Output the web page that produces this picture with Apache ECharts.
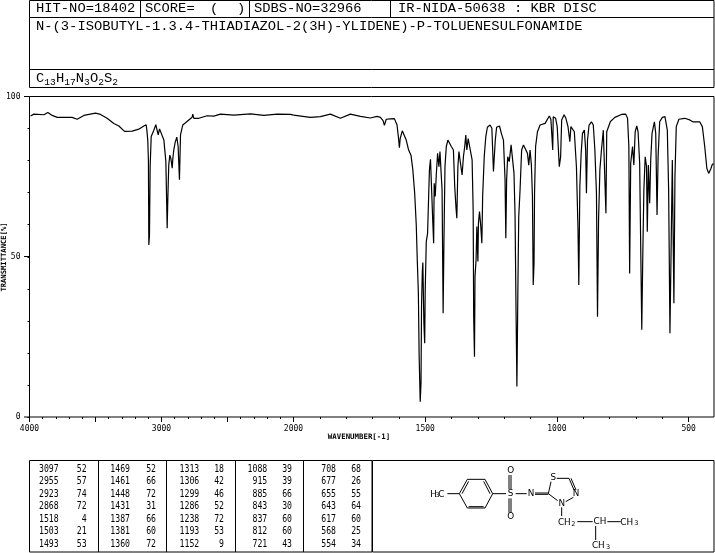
<!DOCTYPE html>
<html><head><meta charset="utf-8">
<style>html,body{margin:0;padding:0;background:#fff}#c{width:715px;height:553px}</style>
<script src="https://cdn.jsdelivr.net/npm/echarts@6/dist/echarts.min.js"></script>
</head><body><div id="c"></div>
<script>
const wavenumbers = [3992,3967,3891,3861,3828,3790,3677,3639,3588,3500,3462,3412,3361,3323,3280,3222,3172,3134,3116,3111,3104,3099,3096,3091,3086,3078,3068,3058,3043,3033,3025,3015,3000,2982,2967,2957,2952,2945,2937,2929,2924,2919,2914,2907,2897,2884,2874,2864,2856,2839,2818,2768,2763,2755,2717,2654,2604,2553,2452,2326,2225,2124,2023,2000,
1936,1898,1860,1822,1784,1746,1708,1683,1670,1660,1655,1648,1633,1617,1607,1602,1598,1595,1587,1580,1572,1563,1554,1547,1540,1534,1530,1526,1523,1519,1516,1514,1511,1509,1505,1502,1500,1496,1491,1487,1484,1480,1475,1471,1468,1466,1462,1458,1453,1448,1444,1441,1436,1432,1429,1425,1420,1414,1408,1401,1393,1388,1383,1380,1376,1372,1367,1360,1355,1350,1346,1342,1337,1330,1322,1318,1316,1313,1311,1307,1304,1300,1298,1294,1289,1285,1282,1276,1270,1264,1254,1247,1241,1237,1234,1229,1218,1211,1203,1197,1194,1191,1187,1181,1174,1169,1163,1159,1155,1152,1148,1145,1140,1134,1127,1120,1112,1107,1102,1097,1093,1090,1087,1085,1081,1074,1064,1045,1029,
1023,1016,1014,1005,999,991,986,982,973,966,958,955,951,947,941,934,926,920,917,913,908,903,896,891,888,884,878,869,862,856,850,846,842,837,831,824,819,814,811,806,797,780,755,739,732,727,724,720,713,708,703,697,692,686,678,674,670,665,660,657,653,648,644,639,630,625,620,616,610,600,590,581,576,571,567,562,556,552,547,537,515,496,484,458,448,439,431,424,415,410,405];
const transmittance = [93.9,94.5,94.3,95.0,94.1,93.5,93.5,92.9,94.1,94.8,94.4,93.2,91.6,90.8,89.1,89.2,89.8,90.8,91.2,89.5,86.4,79.7,53.7,56.8,78.1,87.5,87.3,89.5,91.2,91.2,88.0,89.9,90.4,86.4,79.7,58.9,68.2,78.6,81.7,80.7,80.2,77.6,80.7,83.3,85.6,87.3,84.4,74.0,88.0,91.1,91.8,93.5,94.5,93.2,93.2,94.0,93.9,94.5,94.2,94.6,94.1,94.5,94.4,94.2,
93.5,93.7,94.5,93.2,94.5,93.8,93.3,93.8,93.5,92.5,91.0,92.9,93.0,93.1,91.1,87.5,84.0,86.9,89.3,89.3,86.4,83.3,81.7,77.1,69.8,59.9,48.5,38.6,18.8,4.8,10.5,34.4,45.4,48.2,29.2,23.0,39.6,54.7,57.3,68.8,77.1,80.4,80.2,60.4,54.2,72.9,68.8,75.5,82.3,78.1,82.8,83.3,70.8,32.4,54.2,78.1,84.4,86.4,86.4,84.4,83.3,71.9,65.1,62.0,78.1,82.8,79.7,75.5,81.2,84.4,88.0,83.3,86.9,86.9,80.2,64.6,31.3,18.8,43.8,49.0,59.4,48.5,60.4,64.1,59.4,54.2,68.8,81.2,87.5,90.4,91.1,90.1,76.6,76.2,86.4,90.4,90.8,88.5,86.4,74.0,55.8,74.0,81.2,79.7,84.9,84.4,76.0,63.0,31.3,9.5,41.7,62.5,70.8,83.3,84.9,84.4,82.3,78.6,83.3,78.6,68.8,41.2,48.0,69.8,84.4,89.0,91.1,91.6,93.9,
92.9,83.3,93.7,93.2,90.6,78.1,81.2,92.7,94.3,93.2,90.6,91.1,85.9,90.6,91.1,89.0,78.1,58.4,41.2,71.9,82.3,88.5,89.5,83.3,69.8,86.4,91.1,92.1,91.1,83.3,69.8,31.3,61.5,77.1,83.3,89.5,89.8,63.6,89.0,89.0,92.2,93.5,94.4,94.5,93.2,84.4,44.8,79.2,84.4,78.6,89.0,90.8,89.0,79.2,27.2,51.0,70.8,81.2,78.1,57.8,78.6,66.7,80.2,88.5,92.1,88.5,63.0,81.2,92.1,93.5,93.7,89.5,70.8,26.1,50.0,80.2,35.5,75.0,90.6,92.9,93.2,92.7,92.1,92.1,90.6,84.4,77.6,76.0,77.6,78.9,78.9];

const tableColumns = [
  [[3097,52],[2955,57],[2923,74],[2868,72],[1518,4],[1503,21],[1493,53]],
  [[1469,52],[1461,66],[1448,72],[1431,31],[1387,66],[1381,60],[1360,72]],
  [[1313,18],[1306,42],[1299,46],[1286,52],[1238,72],[1193,53],[1152,9]],
  [[1088,39],[915,39],[885,66],[843,30],[837,60],[812,60],[721,43]],
  [[708,68],[677,26],[655,55],[643,64],[617,60],[568,25],[554,34]]
];
const headerCells = [["HIT-NO=18402",36],["SCORE=",145],["(",210],[")",237],["SDBS-NO=32966",254],["IR-NIDA-50638 : KBR DISC",398]];
const compoundName = "N-(3-ISOBUTYL-1.3.4-THIADIAZOL-2(3H)-YLIDENE)-P-TOLUENESULFONAMIDE";
const formulaParts = [["C",0],["13",1],["H",0],["17",1],["N",0],["3",1],["O",0],["2",1],["S",0],["2",1]];
const xMajorLeft = [4000,3500,3000,2500,2000], xLabelsLeft = [4000,3000,2000];
const xMajorRight = [1500,1000,500], xLabelsRight = [1500,1000,500];
const yLabels = [0,50,100];

const MONO = '"DejaVu Sans Mono"', THIN = '"Liberation Mono"', INK = '#000';
const pts = wavenumbers.map((w,i)=>[w,transmittance[i]]);
const g = [];
function txt(t,x,y,size,opt={}){
  g.push({type:'text',x,y,scaleY:opt.sy||1,rotation:opt.rot||0,z:10,silent:true,
    style:{text:t,fill:INK,fontFamily:opt.ff||MONO,fontSize:size,fontWeight:opt.w||'normal',
      textAlign:opt.a||'left',textVerticalAlign:'middle'}});
}
function seg(x1,y1,x2,y2,lw=1){
  g.push({type:'line',z:10,silent:true,shape:{x1,y1,x2,y2},style:{stroke:INK,lineWidth:lw}});
}
function box(x,y,w,h){
  g.push({type:'rect',z:10,silent:true,shape:{x,y,width:w,height:h},style:{fill:null,stroke:INK,lineWidth:1}});
}
// header
box(29.5,0.5,684.5,87);
seg(29.5,17.5,714,17.5); seg(29.5,69.5,714,69.5);
seg(140.5,0,140.5,17.5); seg(249.5,0,249.5,17.5); seg(390.5,0,390.5,17.5);
headerCells.forEach(c=>txt(c[0],c[1],9,13.8,{sy:.9,ff:THIN}));
txt(compoundName,36,27,13.8,{sy:.9,ff:THIN});
let fx=36;
formulaParts.forEach(p=>{
  if(p[1]){txt(p[0],fx,83,9.6,{sy:.85,ff:THIN});fx+=p[0].length*5.8;}
  else{txt(p[0],fx,79,13.8,{sy:.9,ff:THIN});fx+=8.3;}
});
// plot frame and axis titles
box(29.5,96.5,684.5,320.5);
seg(24,96.5,29,96.5);seg(24,256.5,29,256.5);seg(24,417,29,417);
txt("TRANSMITTANCE[%]",4,257,7.2,{rot:Math.PI/2,a:'center',w:'bold'});
txt("WAVENUMBER[-1]",359,437,7.4,{a:'center',w:'bold'});
// table
box(29.5,460.5,342.5,91.5);
[98.5,166.5,235.5,303.5].forEach(x=>seg(x,460.5,x,552));
const wnRight=[58.7,130,199.3,267.3,336], tRight=[86.7,156,224,292,361], rowY=[469,481.5,494,506.5,519,531.5,544];
tableColumns.forEach((col,c)=>col.forEach((r,i)=>{
  txt(String(r[0]),wnRight[c],rowY[i],8.2,{a:'right',sy:1.2});
  txt(String(r[1]),tRight[c],rowY[i],8.2,{a:'right',sy:1.2});
}));
// structure box
box(372.5,460.5,341.5,91.5);
const mx=z=>370+z/3, my=z=>450+z/3;
function ml(a,b,c,d,lw=1){seg(mx(a),my(b),mx(c),my(d),lw);}
function mt(t,a,b,s=8.8,al='center'){txt(t,mx(a),my(b),s,{a:al,ff:'"DejaVu Sans"'});}
[[268,131,292,88],[292,88,345,88],[345,88,368,131],[368,131,345,174],[345,174,292,174],[292,174,268,131],
 [276,131,296,94],[341,94,360,131],[296,170,341,170],
 [232,131,268,131],[368,131,408,131],[417,118,417,75],[423,118,423,75],[417,145,417,188],[423,145,423,188],
 [437,131,470,131],[495,129,535,129],[495,133,535,133],[535,131,543,95],[560,85,597,85],[597,85,612,120],[603,85,618,120],
 [610,142,587,155],[563,152,535,131],[575,172,575,198],[622,215,668,215],[712,215,752,215],[677,228,677,270]
].forEach(s=>ml(...s));
mt("H",191,133);mt("3",203,137,6.5);mt("C",214,133);
mt("S",422,131);mt("O",422,62);mt("O",422,200);mt("N",483,132);mt("S",550,82);mt("N",618,131);mt("N",575,161);
mt("CH",583,217);mt("2",610,222,6.5);mt("CH",690,215);mt("CH",770,217);mt("3",799,221,6.5);mt("CH",685,287);mt("3",714,291,6.5);

const tickLabel={fontFamily:MONO,fontSize:8,color:INK,formatter:v=>String(v)};
const noLine={show:false};
function xAxes(grid,min,max,major,labels){
  return [
    {type:'value',gridIndex:grid,position:'bottom',min,max,interval:100,inverse:true,splitLine:noLine,axisLine:noLine,axisLabel:noLine,
     axisTick:{show:true,length:2,lineStyle:{color:INK}}},
    {type:'value',gridIndex:grid,position:'bottom',min,max,inverse:true,splitLine:noLine,axisLine:noLine,
     axisTick:{show:true,length:5,customValues:major,lineStyle:{color:INK}},
     axisLabel:{...tickLabel,margin:8,customValues:labels,showMinLabel:true,showMaxLabel:true,hideOverlap:false}}
  ];
}
const option={
  animation:false,backgroundColor:'#fff',
  grid:[{left:29.5,top:96.5,width:264,height:320.5},{left:293.5,top:96.5,width:422,height:320.5}],
  xAxis:[...xAxes(0,2000,4000,xMajorLeft,xLabelsLeft),...xAxes(1,400,2000,xMajorRight,xLabelsRight)],
  yAxis:[
    {type:'value',gridIndex:0,position:'left',min:0,max:100,interval:10,splitLine:noLine,axisLine:noLine,axisLabel:noLine,
     axisTick:{show:true,length:2,lineStyle:{color:INK}}},
    {type:'value',gridIndex:0,position:'left',min:0,max:100,splitLine:noLine,axisLine:noLine,axisTick:noLine,
     axisLabel:{...tickLabel,margin:9,customValues:yLabels,showMinLabel:true,showMaxLabel:true,hideOverlap:false}},
    {type:'value',gridIndex:1,min:0,max:100,show:false}
  ],
  series:[
    {type:'line',xAxisIndex:0,yAxisIndex:0,data:pts.filter(p=>p[0]>=2000),showSymbol:false,symbol:'none',silent:true,
     lineStyle:{color:INK,width:1.2}},
    {type:'line',xAxisIndex:2,yAxisIndex:2,data:pts.filter(p=>p[0]<=2000),showSymbol:false,symbol:'none',silent:true,
     lineStyle:{color:INK,width:1.2}}
  ],
  graphic:g
};
echarts.init(document.getElementById('c'),null,{renderer:'canvas'}).setOption(option);
</script></body></html>
